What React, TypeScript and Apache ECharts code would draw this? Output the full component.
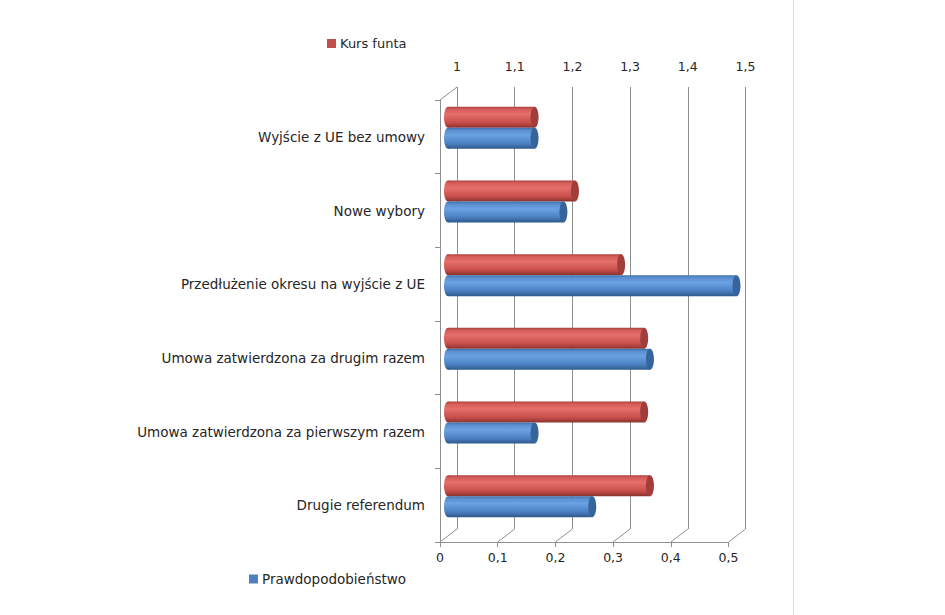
import { useEffect, useRef } from 'react';
import * as echarts from 'echarts';

const categories = [
  'Wyjście z UE bez umowy',
  'Nowe wybory',
  'Przedłużenie okresu na wyjście z UE',
  'Umowa zatwierdzona za drugim razem',
  'Umowa zatwierdzona za pierwszym razem',
  'Drugie referendum',
];
const kursFunta = [1.15, 1.22, 1.3, 1.34, 1.34, 1.35];
const prawdopodobienstwo = [0.15, 0.2, 0.5, 0.35, 0.15, 0.25];
const kursTicks = [1, 1.1, 1.2, 1.3, 1.4, 1.5];
const probTicks = [0, 0.1, 0.2, 0.3, 0.4, 0.5];

const FONT = '"DejaVu Sans", sans-serif';
const TEXT = '#262626';
const LINE = '#8f8f8f';
// 3D depth offset of the back wall
const DX = 17;
const DY = 13;

const fmt = (v: number) => String(Math.round(v * 10) / 10).replace('.', ',');

const redStops = [
  { offset: 0, color: '#a9423f' },
  { offset: 0.12, color: '#d65c58' },
  { offset: 0.35, color: '#e56f6b' },
  { offset: 0.75, color: '#c94f4b' },
  { offset: 1, color: '#8a3230' },
];
const blueStops = [
  { offset: 0, color: '#3d6ea8' },
  { offset: 0.12, color: '#5a8fd0' },
  { offset: 0.35, color: '#6ba2e2' },
  { offset: 0.75, color: '#4a80c2' },
  { offset: 1, color: '#2e5889' },
];

function cylinder(min: number, stops: any[], capColor: string, upper: boolean) {
  return (params: any, api: any) => {
    const v = api.value(0);
    const c = api.value(1);
    const start = api.coord([min, c]);
    const end = api.coord([v, c]);
    const h = api.size([0, 1])[1] * 0.285;
    const y0 = upper ? start[1] - h : start[1];
    const fill = new echarts.graphic.LinearGradient(0, 0, 0, 1, stops);
    return {
      type: 'group',
      children: [
        {
          type: 'ellipse',
          shape: { cx: start[0], cy: y0 + h / 2, rx: 4, ry: h / 2 },
          style: { fill },
        },
        {
          type: 'rect',
          shape: { x: start[0], y: y0, width: end[0] - start[0], height: h },
          style: { fill },
        },
        {
          type: 'ellipse',
          shape: { cx: end[0], cy: y0 + h / 2, rx: 4, ry: h / 2 },
          style: { fill: capColor },
        },
      ],
    };
  };
}

export default function App() {
  const ref = useRef<HTMLDivElement>(null);

  useEffect(() => {
    if (!ref.current) return;
    const chart = echarts.init(ref.current, undefined, { renderer: 'svg' });

    const option: any = {
      animation: false,
      backgroundColor: '#ffffff',
      textStyle: { fontFamily: FONT },
      legend: [
        {
          data: ['Kurs funta'],
          left: 327,
          top: 37,
          padding: 0,
          icon: 'rect',
          itemWidth: 9,
          itemHeight: 9,
          textStyle: { color: TEXT, fontSize: 13, fontFamily: FONT, padding: [0, 0, 0, -1] },
        },
        {
          data: ['Prawdopodobieństwo'],
          left: 249,
          top: 572,
          padding: 0,
          icon: 'rect',
          itemWidth: 9,
          itemHeight: 9,
          textStyle: { color: TEXT, fontSize: 13.5, fontFamily: FONT, padding: [0, 0, 0, -1] },
        },
      ],
      grid: [
        { left: 440, top: 100, width: 288.5, height: 442 },
        { left: 440 + DX, top: 100 - DY, width: 288.5, height: 442 },
        { left: 448, top: 91, width: 288.5, height: 442 },
      ],
      xAxis: [
        {
          gridIndex: 0,
          type: 'value',
          position: 'bottom',
          min: probTicks[0],
          max: probTicks[probTicks.length - 1],
          interval: 0.1,
          axisLine: { show: true, lineStyle: { color: LINE } },
          axisTick: { show: true, length: 5, lineStyle: { color: LINE } },
          axisLabel: { color: TEXT, fontSize: 12.5, margin: 9, formatter: fmt },
          splitLine: { show: false },
        },
        {
          gridIndex: 1,
          type: 'value',
          position: 'top',
          min: kursTicks[0],
          max: kursTicks[kursTicks.length - 1],
          interval: 0.1,
          axisLine: { show: false },
          axisTick: { show: false },
          axisLabel: { color: TEXT, fontSize: 12.5, margin: 14, formatter: fmt },
          splitLine: { show: true, lineStyle: { color: LINE, width: 1 } },
        },
        {
          gridIndex: 2,
          type: 'value',
          show: false,
          min: probTicks[0],
          max: probTicks[probTicks.length - 1],
          splitLine: { show: false },
        },
        {
          gridIndex: 2,
          type: 'value',
          show: false,
          position: 'top',
          min: kursTicks[0],
          max: kursTicks[kursTicks.length - 1],
          splitLine: { show: false },
        },
      ],
      yAxis: [
        {
          gridIndex: 0,
          type: 'category',
          inverse: true,
          data: categories,
          axisLine: { show: true, lineStyle: { color: LINE } },
          axisTick: { show: true, length: 5, lineStyle: { color: LINE } },
          axisLabel: { color: TEXT, fontSize: 13.5, margin: 15 },
        },
        { gridIndex: 1, type: 'category', inverse: true, data: categories, show: false },
        { gridIndex: 2, type: 'category', inverse: true, data: categories, show: false },
      ],
      series: [
        {
          name: 'Kurs funta',
          type: 'custom',
          xAxisIndex: 3,
          yAxisIndex: 2,
          itemStyle: { color: '#c0504d' },
          data: kursFunta.map((v, i) => [v, i]),
          encode: { x: 0, y: 1 },
          renderItem: cylinder(kursTicks[0], redStops, '#a13e3b', true),
        },
        {
          name: 'Prawdopodobieństwo',
          type: 'custom',
          xAxisIndex: 2,
          yAxisIndex: 2,
          itemStyle: { color: '#4f81bd' },
          data: prawdopodobienstwo.map((v, i) => [v, i]),
          encode: { x: 0, y: 1 },
          renderItem: cylinder(probTicks[0], blueStops, '#37649b', false),
        },
        {
          // floor and wall depth edges
          type: 'custom',
          xAxisIndex: 0,
          yAxisIndex: 0,
          silent: true,
          data: probTicks.map((v) => [v, 0]),
          encode: { x: 0, y: 1 },
          renderItem: (params: any, api: any) => {
            const x = api.coord([api.value(0), 0])[0];
            const cs = params.coordSys;
            const yb = cs.y + cs.height;
            const style = { stroke: LINE, lineWidth: 1, fill: null };
            const children: any[] = [
              { type: 'line', shape: { x1: x, y1: yb, x2: x + DX, y2: yb - DY }, style },
            ];
            if (params.dataIndex === 0) {
              children.push({
                type: 'line',
                shape: { x1: x, y1: cs.y, x2: x + DX, y2: cs.y - DY },
                style,
              });
            }
            return { type: 'group', children };
          },
        },
      ],
      graphic: [
        {
          type: 'line',
          shape: { x1: 793.5, y1: 0, x2: 793.5, y2: 615 },
          style: { stroke: '#dcdcdc', lineWidth: 1 },
          silent: true,
        },
      ],
    };

    chart.setOption(option);
    return () => chart.dispose();
  }, []);

  return (
    <div
      ref={ref}
      style={{ position: 'fixed', left: 0, top: 0, width: 945, height: 615 }}
    />
  );
}
